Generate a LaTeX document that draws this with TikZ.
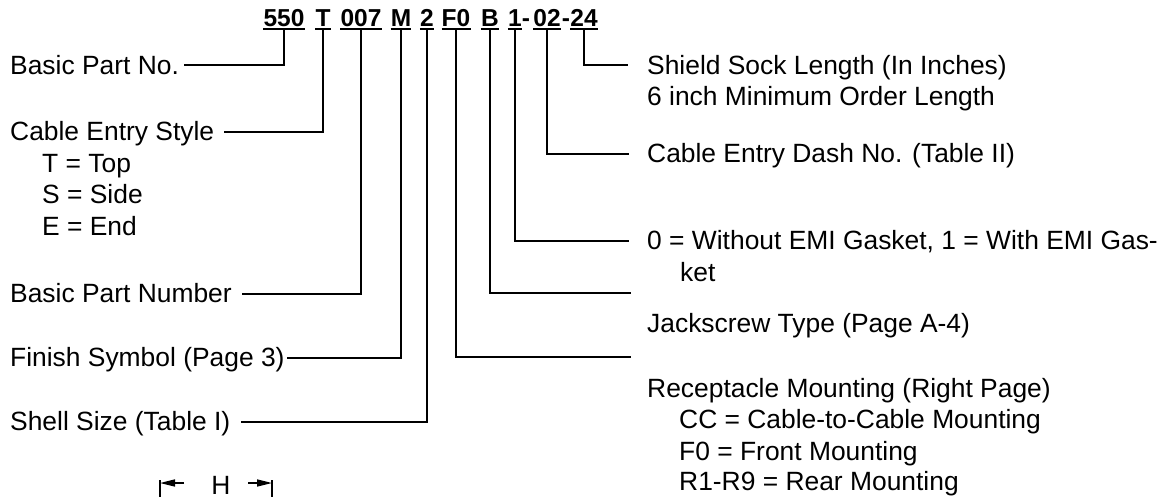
\documentclass[tikz,border=0pt]{standalone}
\usepackage{fontspec}
\setmainfont{Liberation Sans}
\usetikzlibrary{arrows.meta}
\begin{document}
\begin{tikzpicture}[x=1pt,y=-1pt,
  lbl/.style={font=\fontsize{26.4}{30}\selectfont, anchor=base west, inner sep=0pt},
  codeseg/.style={font=\bfseries\fontsize{24.5}{24}\selectfont, anchor=base, inner sep=0pt, text depth=3pt},
  conn/.style={line width=2pt, line cap=rect},
  uline/.style={line width=1.8pt},
  dim/.style={line width=1.6pt}
]
\useasboundingbox (0,0) rectangle (1167,498);
% code segments
\node[codeseg] (s550) at (284,26) {550};
\node[codeseg] (sT)   at (323,26) {T};
\node[codeseg] (s007) at (361,26) {007};
\node[codeseg] (sM)   at (401,26) {M};
\node[codeseg] (s2)   at (427,26) {2};
\node[codeseg] (sF0)  at (456,26) {F0};
\node[codeseg] (sB)   at (490,26) {B};
\node[codeseg] (s1)   at (515,26) {1};
\node[codeseg] (d1)   at (526,26) {-};
\node[codeseg] (s02)  at (547,26) {02};
\node[codeseg] (d2)   at (566,26) {-};
\node[codeseg] (s24)  at (584,26) {24};
\foreach \n in {s550,sT,s007,sM,s2,sF0,sB,s1,s02,s24}
  \draw[uline] (\n.south west) -- (\n.south east);
% left labels
\node[lbl] (l1)  at (10,74)  {Basic Part No.};
\node[lbl] (l2)  at (10,140) {Cable Entry Style};
\node[lbl] (l2a) at (42,172) {T = Top};
\node[lbl] (l2b) at (42,203) {S = Side};
\node[lbl] (l2c) at (42,235) {E = End};
\node[lbl] (l3)  at (10,302) {Basic Part Number};
\node[lbl] (l4)  at (10,366) {Finish Symbol (Page 3)};
\node[lbl] (l5)  at (10,430) {Shell Size (Table I)};
% right labels
\node[lbl] (r1)  at (647,74)  {Shield Sock Length (In Inches)};
\node[lbl] (r1a) at (647,105) {6 inch Minimum Order Length};
\node[lbl] (r2)  at (647,162) {Cable Entry Dash No. (Table II)};
\node[lbl] (r3)  at (647,249) {0 = Without EMI Gasket, 1 = With EMI Gas-};
\node[lbl] (r3a) at (680,281) {ket};
\node[lbl] (r4)  at (647,332) {Jackscrew Type (Page A-4)};
\node[lbl] (r5)  at (647,397) {Receptacle Mounting (Right Page)};
\node[lbl] (r5a) at (679,428) {CC = Cable-to-Cable Mounting};
\node[lbl] (r5b) at (679,460) {F0 = Front Mounting};
\node[lbl] (r5c) at (679,490) {R1-R9 = Rear Mounting};
% connector ends
\coordinate (c550) at (185,65);
\coordinate (cT)   at (225,132);
\coordinate (c007) at (243,294);
\coordinate (cM)   at (288,358);
\coordinate (c2)   at (242,422);
\coordinate (cF0)  at (630,357);
\coordinate (cB)   at (630,293);
\coordinate (c1)   at (628,241);
\coordinate (c02)  at (628,154);
\coordinate (c24)  at (627,65);
\foreach \n in {550,T,007,M,2,F0,B,1,02,24}
  \draw[conn] (s\n.south) |- (c\n);
% H dimension
\node[font=\fontsize{26.4}{30}\selectfont, inner sep=0pt, text depth=0pt] (H) at (221,485) {H};
\coordinate (tl) at (160,483);
\coordinate (tr) at (272,483);
\draw[dim] (160,480) -- (160,497);
\draw[dim] (272,480) -- (272,497);
\draw[dim,-{Triangle[length=15pt,width=7pt]}] (184,483) -- (tl);
\draw[dim,-{Triangle[length=15pt,width=7pt]}] (248,483) -- (tr);
\end{tikzpicture}
\end{document}
